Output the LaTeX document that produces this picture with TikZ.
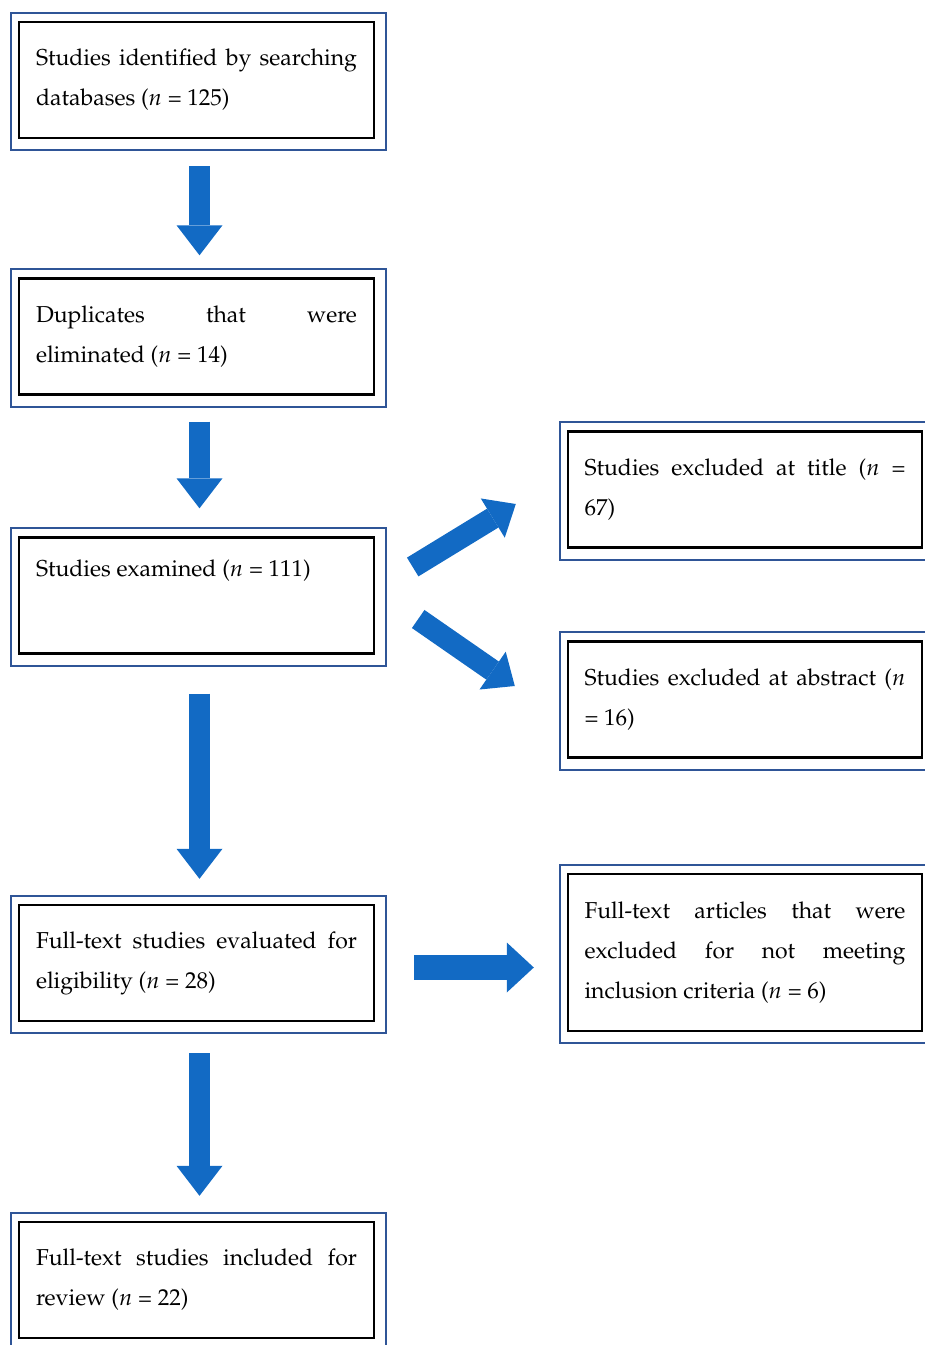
\documentclass[tikz,border=0pt]{standalone}
\usepackage[T1]{fontenc}
\usepackage{mathpazo}
\usepackage{tikz}
\usetikzlibrary{arrows.meta, calc, positioning}
\definecolor{azulmarco}{RGB}{47,85,151}
\definecolor{azulflecha}{RGB}{18,106,196}
\hyphenpenalty=10000
\exhyphenpenalty=10000
\tikzset{
	caja/.style={draw=black, line width=1.2pt, inner sep=0pt,
		minimum width=177.5pt, minimum height=58pt,
		text width=160.5pt, align=justify,
		font=\fontsize{11.5}{20}\selectfont}, % Caja interior con el texto
	marco/.style={draw=azulmarco, line width=1pt}, % Marco azul alrededor de cada caja
	flechaV/.style={draw=azulflecha, line width=10.5pt,
		-{Triangle[width=23pt, length=15pt, line width=0pt]}}, % Flechas hacia abajo
	flechaD/.style={draw=azulflecha, line width=11pt,
		-{Triangle[width=23pt, length=13.5pt, line width=0pt]}}, % Flechas diagonales
	flechaH/.style={draw=azulflecha, line width=12.5pt,
		-{Triangle[width=25pt, length=13.5pt, line width=0pt]}} % Flecha horizontal
}

\begin{document}
\begin{tikzpicture}[x=0.5pt, y=-0.5pt]
	\useasboundingbox (0,0) rectangle (925,1345);
	% columna izquierda
	\node[caja] (s1) at (196.5,80) {Studies identified by searching\linebreak databases ($n$ = 125)};
	\node[caja] (s2) at (196.5,336.5) {Duplicates that were\linebreak eliminated ($n$ = 14)};
	\node[caja] (s3) at (196.5,595.5) {Studies examined ($n$ = 111)\\[7pt]\mbox{}};
	\node[caja] (s4) at (196.5,963) {Full-text studies evaluated for\linebreak eligibility ($n$ = 28)};
	\node[caja] (s5) at (196.5,1280) {Full-text studies included for\linebreak review ($n$ = 22)};
	% columna derecha
	\node[caja, minimum width=177pt] (ea) at (745,489.5) {Studies excluded at title ($n$ =\linebreak 67)};
	\node[caja, minimum width=177pt] (eb) at (745,699.5) {Studies excluded at abstract ($n$\linebreak = 16)};
	\node[caja, minimum width=177pt, minimum height=78.5pt] (ec) at (745,952.5) {Full-text articles that were\linebreak excluded for not meeting\linebreak inclusion criteria ($n$ = 6)};
	\foreach \nodo in {s1,s2,s3,s4,s5,ea,eb,ec}
		\draw[marco] ($(\nodo.north west)+(-7,-8)$) rectangle ($(\nodo.south east)+(11,11)$);
	\draw[flechaV] ($(s1.south)+(3,27)$) -- ($(s2.north)+(3,-22)$);
	\draw[flechaV] ($(s2.south)+(3,26)$) -- ($(s3.north)+(3,-28)$);
	\draw[flechaV] ($(s3.south)+(3,39)$) -- ($(s4.north)+(3,-25)$);
	\draw[flechaV] ($(s4.south)+(3,31)$) -- ($(s5.north)+(3,-25)$);
	\draw[flechaD] ($(s3.east)+(37.5,-28.5)$) -- ($(ea.west)+(-51,14.5)$);
	\draw[flechaD] ($(s3.east)+(43,23.5)$) -- ($(eb.west)+(-52,-13.5)$);
	\draw[flechaH] ($(s4.east)+(39,4.5)$) -- ($(ec.west)+(-33,15)$);
\end{tikzpicture}
\end{document}
